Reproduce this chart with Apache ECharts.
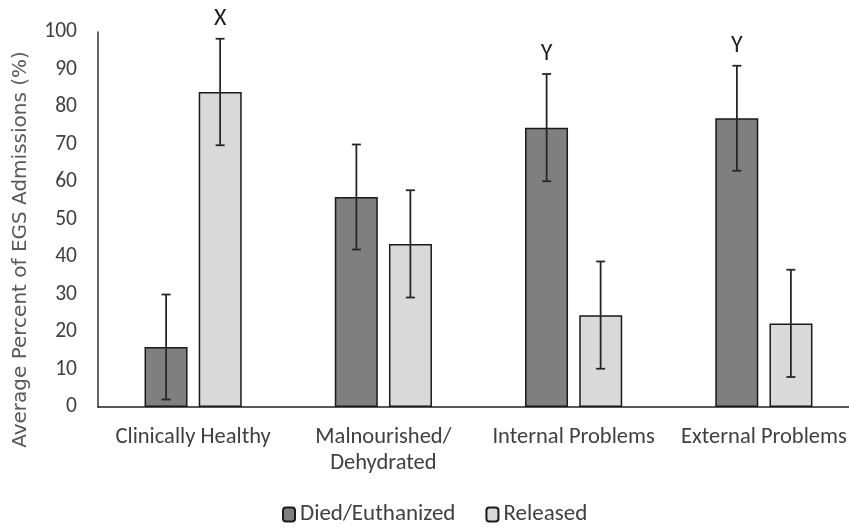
<!DOCTYPE html>
<html>
<head>
<meta charset="utf-8">
<script src="https://cdn.jsdelivr.net/npm/echarts@6/dist/echarts.min.js"></script>
<style>
  html, body { margin: 0; padding: 0; background: #fff; overflow: hidden; }
  #chart { width: 860px; height: 527px; }
</style>
</head>
<body>
<div id="chart"></div>
<script>
// Outcome categories and mean percentages with their error (±) values
const categories = ['Clinically Healthy', 'Malnourished/\nDehydrated', 'Internal Problems', 'External Problems'];
const diedValues = [16, 56, 74.5, 77];
const diedErrors = [14, 14, 14.3, 14];
const releasedValues = [84, 43.5, 24.5, 22.3];
const releasedErrors = [14.2, 14.3, 14.3, 14.3];
// Significance letters shown above the error bars
const diedLetters = ['', '', 'Y', 'Y'];
const releasedLetters = ['X', '', '', ''];
const yTicks = { min: 0, max: 100, step: 10 };

const FONT = 'Carlito, Lato, "Liberation Sans", sans-serif';
const BAR_W = 43;
const PAIR_OFFSET = 27;

function errorSeries(name, values, errors, letters, side) {
  return {
    name: name + ' error',
    type: 'custom',
    silent: true,
    z: 5,
    data: values.map((v, i) => [i, v, errors[i]]),
    renderItem: function (params, api) {
      const i = api.value(0), v = api.value(1), e = api.value(2);
      const letter = letters[i];
      const top = api.coord([i, v + e]);
      const bot = api.coord([i, v - e]);
      const x = top[0] + side * PAIR_OFFSET;
      const cap = 4.5;
      const st = { stroke: '#262626', lineWidth: 1.8 };
      const children = [
        { type: 'line', shape: { x1: x, y1: top[1], x2: x, y2: bot[1] }, style: st },
        { type: 'line', shape: { x1: x - cap, y1: top[1], x2: x + cap, y2: top[1] }, style: st },
        { type: 'line', shape: { x1: x - cap, y1: bot[1], x2: x + cap, y2: bot[1] }, style: st }
      ];
      if (letter) {
        children.push({
          type: 'text',
          style: {
            text: letter, x: x, y: top[1] - 8,
            textAlign: 'center', textVerticalAlign: 'bottom',
            font: '24px ' + FONT, fill: '#1f1f1f'
          }
        });
      }
      return { type: 'group', children: children };
    }
  };
}

const chart = echarts.init(document.getElementById('chart'), null, { renderer: 'canvas' });
chart.setOption({
  animation: false,
  backgroundColor: '#fff',
  grid: { left: 98, width: 761, top: 32, height: 375, containLabel: false },
  legend: {
    left: 282, top: 503, padding: 0,
    itemWidth: 12, itemHeight: 14, itemGap: 30,
    textStyle: { fontFamily: FONT, fontSize: 23, color: '#404040', padding: [0, 0, 0, 0] },
    data: ['Died/Euthanized', 'Released']
  },
  xAxis: {
    type: 'category',
    data: categories,
    axisLine: { lineStyle: { color: '#222', width: 1.5 } },
    axisTick: { show: false },
    axisLabel: {
      interval: 0, margin: 17,
      fontFamily: FONT, fontSize: 22.5, color: '#404040', lineHeight: 26
    }
  },
  yAxis: {
    type: 'value',
    min: yTicks.min, max: yTicks.max, interval: yTicks.step,
    name: 'Average Percent of EGS Admissions (%)',
    nameLocation: 'middle', nameGap: 67, nameRotate: 90,
    nameTextStyle: {
      fontFamily: '"DejaVu Sans", sans-serif', fontSize: 20, color: '#595959',
      padding: [0, 60, 0, 0]
    },
    axisLine: { show: true, lineStyle: { color: '#333', width: 1.5 } },
    axisTick: { show: false },
    splitLine: { show: false },
    axisLabel: { margin: 21, fontFamily: FONT, fontSize: 21.5, color: '#404040' }
  },
  series: [
    {
      name: 'Died/Euthanized', type: 'bar', data: diedValues,
      barWidth: BAR_W, barGap: '26%',
      itemStyle: { color: '#7f7f7f', borderColor: '#1a1a1a', borderWidth: 1.5 }
    },
    {
      name: 'Released', type: 'bar', data: releasedValues,
      barWidth: BAR_W,
      itemStyle: { color: '#d9d9d9', borderColor: '#1a1a1a', borderWidth: 1.5 }
    },
    errorSeries('Died/Euthanized', diedValues, diedErrors, diedLetters, -1),
    errorSeries('Released', releasedValues, releasedErrors, releasedLetters, 1)
  ]
});
</script>
</body>
</html>
